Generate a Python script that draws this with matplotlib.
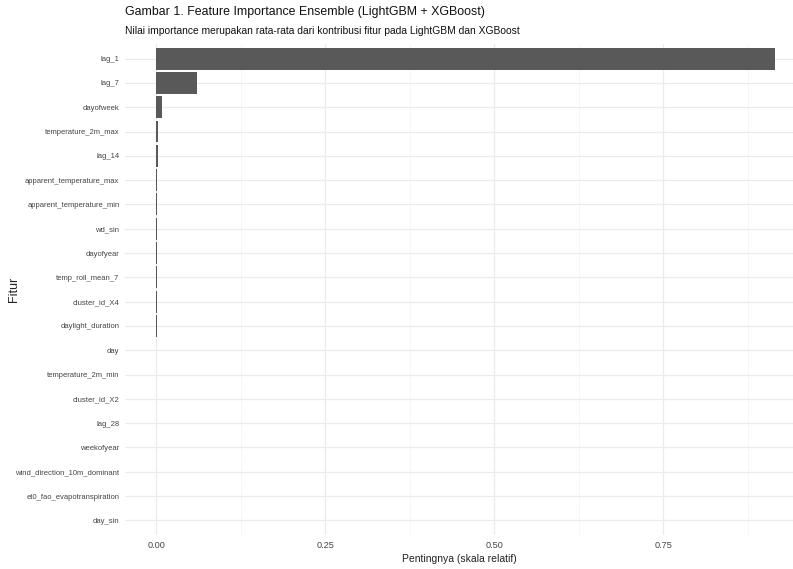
import matplotlib
matplotlib.use("Agg")
import matplotlib.pyplot as plt
from matplotlib.ticker import MultipleLocator

features = ["lag_1", "lag_7", "dayofweek", "temperature_2m_max", "lag_14",
            "apparent_temperature_max", "apparent_temperature_min", "wd_sin",
            "dayofyear", "temp_roll_mean_7", "cluster_id_X4", "daylight_duration",
            "day", "temperature_2m_min", "cluster_id_X2", "lag_28", "weekofyear",
            "wind_direction_10m_dominant", "et0_fao_evapotranspiration", "day_sin"]
importance = [0.915, 0.0606, 0.009, 0.0035, 0.0025, 0.002, 0.0016, 0.0014,
              0.0011, 0.001, 0.0009, 0.0008, 0.0003, 0.00025, 0.0002, 0.00015,
              0.0001, 0.0001, 0.00008, 0.00005]
xticks = [0.00, 0.25, 0.50, 0.75]
xtick_labels = ["0.00", "0.25", "0.50", "0.75"]

plt.rcParams['font.family'] = ['Liberation Sans', 'DejaVu Sans']

W, H = 793, 569
fig = plt.figure(figsize=(W / 100, H / 100), dpi=100)
left, right, top, bottom = 125, 793, 44, 535
ax = fig.add_axes([left / W, 1 - bottom / H, (right - left) / W, (bottom - top) / H])

n = len(features)
ypos = list(range(n))
ax.barh(ypos, importance, height=0.9, color="#595959", zorder=3)
ax.set_ylim(n - 1 + 0.6, -0.6)
ax.set_xlim(-0.046, 0.942)

ax.set_yticks(ypos)
ax.set_yticklabels(features, fontsize=5.5, color="#444444")
ax.set_xticks(xticks)
ax.set_xticklabels(xtick_labels, fontsize=6.6, color="#444444")
ax.xaxis.set_minor_locator(MultipleLocator(0.125))
ax.tick_params(axis="both", which="both", length=0, pad=4)

ax.grid(True, which="major", axis="both", color="#EBEBEB", linewidth=0.9, zorder=0)
ax.grid(True, which="minor", axis="x", color="#F3F3F3", linewidth=0.5, zorder=0)
for s in ax.spines.values():
    s.set_visible(False)

ax.set_xlabel("Pentingnya (skala relatif)", fontsize=7.5, color="#222222", labelpad=3)
ax.set_ylabel("Fitur", fontsize=9, color="#222222")
ax.yaxis.set_label_coords((20 - left) / (right - left), 0.5)

fig.text(left / W, 1 - 12 / H, "Gambar 1. Feature Importance Ensemble (LightGBM + XGBoost)",
         fontsize=8.9, color="#111111", ha="left", va="center")
fig.text(left / W, 1 - 31 / H, "Nilai importance merupakan rata-rata dari kontribusi fitur pada LightGBM dan XGBoost",
         fontsize=7.4, color="#111111", ha="left", va="center")

fig.savefig("out.png", dpi=100)
